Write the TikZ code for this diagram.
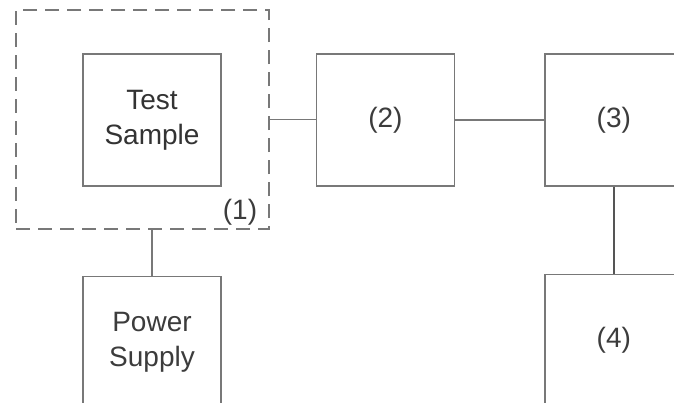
\documentclass[tikz,border=0pt]{standalone}
\usepackage{fontspec}
\setmainfont{Liberation Sans}
\usetikzlibrary{positioning}
\definecolor{linegray}{RGB}{120,120,120}
\definecolor{darkline}{RGB}{85,85,85}
\definecolor{textgray}{RGB}{60,60,60}
\tikzset{
  box/.style={rectangle, draw=linegray, line width=1.4pt, minimum width=138pt,
    minimum height=132pt, align=center, text=textgray,
    font=\fontsize{28}{35}\selectfont},
  framebox/.style={rectangle, draw=linegray, line width=1.6pt,
    dash pattern=on 14pt off 8pt, minimum width=253pt, minimum height=219pt},
  tag/.style={text=textgray, font=\fontsize{28}{35}\selectfont},
  wire/.style={draw=linegray, line width=1.3pt},
}

\begin{document}
\begin{tikzpicture}[x=1pt, y=-1pt, node distance=90pt]
  \useasboundingbox (0,0) rectangle (674,402);
  \clip (0,0) rectangle (674,402);
  \fill[white] (0,0) rectangle (674,402);

  \node[box, text=black!80] (sample) at (152,120) {Test\\Sample};
  \node[framebox] (frame) at (142.5,119.5) {};
  \node[tag] (one) at (240,212) {(1)};

  \node[box, right=94pt of sample] (two) {(2)};
  \node[box, right=89pt of two] (three) {(3)};
  \node[box, below=87pt of three] (four) {(4)};
  \node[box, below=89pt of sample] (supply) {Power\\Supply};

  \draw[wire] (frame.east) -- (frame.east -| two.west);
  \draw[wire] (two.east) -- (three.west);
  \draw[wire, draw=darkline, line width=1.8pt] (three.south) -- (four.north);
  \draw[wire] (supply.north |- frame.south) -- (supply.north);
\end{tikzpicture}
\end{document}
